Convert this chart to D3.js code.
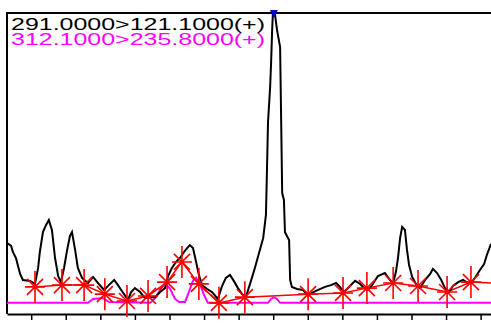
<!DOCTYPE html>
<html>
<head>
<meta charset="utf-8">
<script src="https://cdn.jsdelivr.net/npm/d3@7"></script>
<style>
  html, body { margin: 0; padding: 0; background: #fff; }
  svg { display: block; }
</style>
</head>
<body>
<div id="chart"></div>
<script>
// transition labels
const labels = ["291.0000>121.1000(+)", "312.1000>235.8000(+)"];
const labelColors = ["#000000", "#ff00ff"];

// x axis ticks (min)
const xTicks = [1.0, 1.1, 1.2, 1.3, 1.4, 1.5, 1.6, 1.7, 1.8, 1.9, 2.0, 2.1, 2.2, 2.3];

// trace 1 (291 > 121.1): [time, intensity %]
const trace1 = [
  [0.930, 23.6], [0.942, 22.6], [0.947, 20.6], [0.956, 18.6], [0.962, 15.9], [0.968, 13.3],
  [0.976, 11.3], [0.997, 11.0], [1.011, 10.0], [1.020, 15.3], [1.025, 20.6], [1.034, 27.2],
  [1.043, 29.6], [1.051, 31.2], [1.060, 27.9], [1.069, 18.6], [1.078, 12.6], [1.086, 10.6],
  [1.095, 15.3], [1.104, 21.3], [1.112, 25.9], [1.118, 27.2], [1.127, 21.3], [1.135, 15.3],
  [1.147, 12.0], [1.164, 10.3], [1.179, 12.3], [1.193, 10.3], [1.211, 8.0], [1.228, 10.0],
  [1.240, 11.3], [1.251, 9.6], [1.266, 7.0], [1.280, 4.7], [1.289, 7.3], [1.300, 8.6],
  [1.315, 7.3], [1.329, 5.3], [1.344, 5.6], [1.358, 5.6], [1.373, 7.3], [1.387, 8.6],
  [1.396, 12.6], [1.407, 15.3], [1.419, 17.3], [1.430, 18.6], [1.442, 20.6], [1.451, 21.9],
  [1.459, 22.9], [1.468, 21.9], [1.477, 17.3], [1.485, 13.0], [1.494, 9.6], [1.509, 8.3],
  [1.523, 7.3], [1.540, 5.0], [1.552, 9.3], [1.563, 12.0], [1.575, 13.0], [1.586, 11.0],
  [1.598, 8.6], [1.610, 6.6], [1.621, 5.6], [1.633, 10.0], [1.647, 15.3], [1.659, 20.3],
  [1.671, 25.2], [1.679, 32.9], [1.682, 47.8], [1.685, 63.8], [1.691, 75.1], [1.694, 83.7],
  [1.697, 94.4], [1.699, 99.7], [1.705, 99.7], [1.711, 94.4], [1.720, 88.7], [1.723, 64.5],
  [1.726, 40.2], [1.731, 37.9], [1.734, 27.2], [1.746, 24.6], [1.749, 11.3], [1.754, 9.0],
  [1.769, 8.3], [1.786, 8.0], [1.801, 6.0], [1.812, 7.0], [1.830, 8.0], [1.850, 9.0],
  [1.867, 9.6], [1.882, 10.3], [1.893, 9.0], [1.905, 7.3], [1.922, 9.3], [1.937, 11.0],
  [1.951, 10.0], [1.963, 8.6], [1.974, 8.0], [1.986, 9.6], [2.003, 12.6], [2.023, 13.6],
  [2.038, 11.3], [2.047, 10.3], [2.055, 14.0], [2.061, 18.6], [2.067, 25.2], [2.073, 28.9],
  [2.081, 27.9], [2.087, 21.3], [2.093, 16.3], [2.102, 12.3], [2.113, 10.0], [2.125, 8.6],
  [2.139, 11.3], [2.154, 13.3], [2.162, 15.0], [2.174, 13.6], [2.186, 11.3], [2.197, 8.6],
  [2.209, 7.3], [2.220, 9.3], [2.235, 10.6], [2.249, 11.3], [2.264, 10.3], [2.275, 10.6],
  [2.287, 12.6], [2.298, 14.6], [2.310, 16.6], [2.318, 19.6], [2.330, 23.3]
];

// trace 2 (312.1 > 235.8)
const trace2 = [
  [0.930, 3.7], [1.164, 3.7], [1.179, 5.0], [1.208, 5.3], [1.225, 4.0], [1.344, 3.7],
  [1.361, 5.6], [1.376, 8.6], [1.387, 10.3], [1.402, 8.3], [1.416, 5.0], [1.428, 4.0],
  [1.445, 4.0], [1.456, 7.3], [1.468, 11.0], [1.477, 12.0], [1.488, 10.0], [1.500, 6.3],
  [1.511, 3.7], [1.685, 3.7], [1.694, 5.0], [1.702, 5.6], [1.711, 5.0], [1.720, 3.7],
  [2.330, 3.7]
];

// integration start/end points found on trace 1
const peakMarks = [
  [1.011, 9.0], [1.089, 9.6], [1.153, 9.6], [1.213, 6.6], [1.277, 4.3], [1.338, 6.0],
  [1.393, 10.6], [1.436, 17.3], [1.485, 10.0], [1.543, 3.7], [1.618, 5.6], [1.801, 6.6],
  [1.902, 7.0], [1.971, 8.6], [2.047, 10.3], [2.119, 9.3], [2.203, 7.3], [2.272, 10.6]
];
const baselineEnd = [2.330, 10.3];

// apex of the main peak
const apex = [1.702, 100];

const width = 491, height = 324;
const svg = d3.select("#chart").append("svg")
  .attr("width", width)
  .attr("height", height);

const x = d3.scaleLinear().domain([0.93, 2.33]).range([7, 491]);
const y = d3.scaleLinear().domain([0, 100]).range([314, 13]);

const line = d3.line()
  .x(d => x(d[0]))
  .y(d => y(d[1]));

// frame: left and top
svg.append("path")
  .attr("d", `M${x(0.93)},${y(0)}V${y(100)}H${width}`)
  .attr("fill", "none")
  .attr("stroke", "#000")
  .attr("stroke-width", 2);

// bottom axis
const xAxis = d3.axisBottom(x)
  .tickValues(xTicks)
  .tickSize(6)
  .tickSizeOuter(0)
  .tickFormat("");
const gx = svg.append("g")
  .attr("transform", `translate(0,${y(0)})`)
  .call(xAxis);
gx.select(".domain").attr("stroke-width", 2);
gx.selectAll(".tick line").attr("stroke-width", 1.5);

// red baseline
svg.append("path")
  .datum(peakMarks.concat([baselineEnd]))
  .attr("d", line)
  .attr("fill", "none")
  .attr("stroke", "#ff0000")
  .attr("stroke-width", 1.5);

// magenta trace
svg.append("path")
  .datum(trace2)
  .attr("d", line)
  .attr("fill", "none")
  .attr("stroke", "#ff00ff")
  .attr("stroke-width", 2);

// black trace
svg.append("path")
  .datum(trace1)
  .attr("d", line)
  .attr("fill", "none")
  .attr("stroke", "#000")
  .attr("stroke-width", 2)
  .attr("stroke-linejoin", "miter");

// asterisk markers
const star = svg.append("g").selectAll("g")
  .data(peakMarks)
  .enter()
  .append("g")
  .attr("transform", d => `translate(${x(d[0])},${y(d[1])})`)
  .attr("stroke", "#ff0000")
  .attr("stroke-width", 1.6);
star.append("path")
  .attr("d", "M0,-16V16M-10,0H10M-8,-8L8,8M-8,8L8,-8");
star.append("circle")
  .attr("r", 2)
  .attr("fill", "#ff0000")
  .attr("stroke", "none");

// apex flag
svg.append("path")
  .attr("d", `M${x(apex[0]) - 4},${y(apex[1]) - 3}h8l-4,8z`)
  .attr("fill", "#0000cc");

// labels
svg.selectAll("text.lbl")
  .data(labels)
  .enter()
  .append("text")
  .attr("class", "lbl")
  .attr("x", 11)
  .attr("y", (d, i) => 30 + i * 15)
  .attr("fill", (d, i) => labelColors[i])
  .attr("font-family", "Liberation Sans, Arial, sans-serif")
  .attr("font-size", 16.5)
  .attr("textLength", 254)
  .attr("lengthAdjust", "spacingAndGlyphs")
  .text(d => d);
</script>
</body>
</html>
